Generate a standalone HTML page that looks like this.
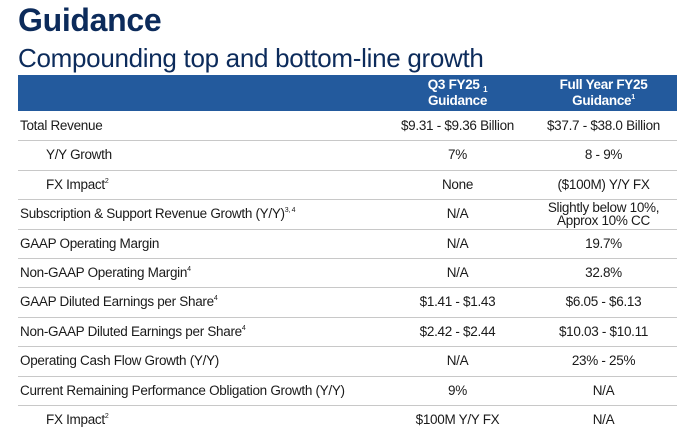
<!DOCTYPE html>
<html><head><meta charset="utf-8"><style>
body{margin:0;width:697px;height:439px;background:#fff;font-family:"Liberation Sans",sans-serif;position:relative;overflow:hidden;color:#1a1a1a}
.t{position:absolute;white-space:nowrap}
#title{left:18px;top:2px;font-size:32px;font-weight:bold;color:#0c2b5b;letter-spacing:-0.3px}
#sub{left:18px;top:43px;font-size:26px;color:#0c2b5b;letter-spacing:-0.3px}
#hdr{position:absolute;left:18px;top:75px;width:659px;height:36px;background:#235a9d}
.h{position:absolute;color:#fff;font-weight:bold;font-size:13.5px;text-align:center;line-height:16px;top:77px;letter-spacing:-0.3px}
.row{position:absolute;left:18px;width:659px;height:29.4px;border-bottom:1px solid #c8c8c8}
.row span{position:absolute;top:0;line-height:29px;font-size:13.5px;letter-spacing:-0.3px;white-space:nowrap}
.l{left:2px}.li{left:28px}
.c1{left:367px;width:145px;text-align:center}
.c2{left:512px;width:147px;text-align:center}
sup,sub{font-size:7px;line-height:0;vertical-align:baseline;position:relative}
sup{top:-6px}sub{top:3px;font-size:8px}
.two{line-height:13px!important;top:2px!important}
</style></head><body>
<div class="t" id="title">Guidance</div>
<div class="t" id="sub">Compounding top and bottom-line growth</div>
<div id="hdr"></div>
<div class="h" style="left:385px;width:145px">Q3 FY25 <sub>1</sub><br>Guidance</div>
<div class="h" style="left:530px;width:147px">Full Year FY25<br>Guidance<sup>1</sup></div>
<div id="rows"></div>
<script>
const labels=["Total Revenue","Y/Y Growth","FX Impact<sup>2</sup>","Subscription &amp; Support Revenue Growth (Y/Y)<sup>3, 4</sup>","GAAP Operating Margin","Non-GAAP Operating Margin<sup>4</sup>","GAAP Diluted Earnings per Share<sup>4</sup>","Non-GAAP Diluted Earnings per Share<sup>4</sup>","Operating Cash Flow Growth (Y/Y)","Current Remaining Performance Obligation Growth (Y/Y)","FX Impact<sup>2</sup>"];
const indent=[0,1,1,0,0,0,0,0,0,0,1];
const q3=["$9.31 - $9.36 Billion","7%","None","N/A","N/A","N/A","$1.41 - $1.43","$2.42 - $2.44","N/A","9%","$100M Y/Y FX"];
const fy=["$37.7 - $38.0 Billion","8 - 9%","($100M) Y/Y FX","Slightly below 10%,<br>Approx 10% CC","19.7%","32.8%","$6.05 - $6.13","$10.03 - $10.11","23% - 25%","N/A","N/A"];
const c=document.getElementById('rows');
labels.forEach((lb,i)=>{
 const r=document.createElement('div');r.className='row';r.style.top=(111+i*29.4)+'px';
 
 
 if(i==labels.length-1)r.style.borderBottom='none';
 r.innerHTML=`<span class="${indent[i]?'li':'l'}">${lb}</span><span class="c1">${q3[i]}</span><span class="c2${fy[i].includes('<br>')?' two':''}">${fy[i]}</span>`;
 c.appendChild(r);
});
</script>
</body></html>
